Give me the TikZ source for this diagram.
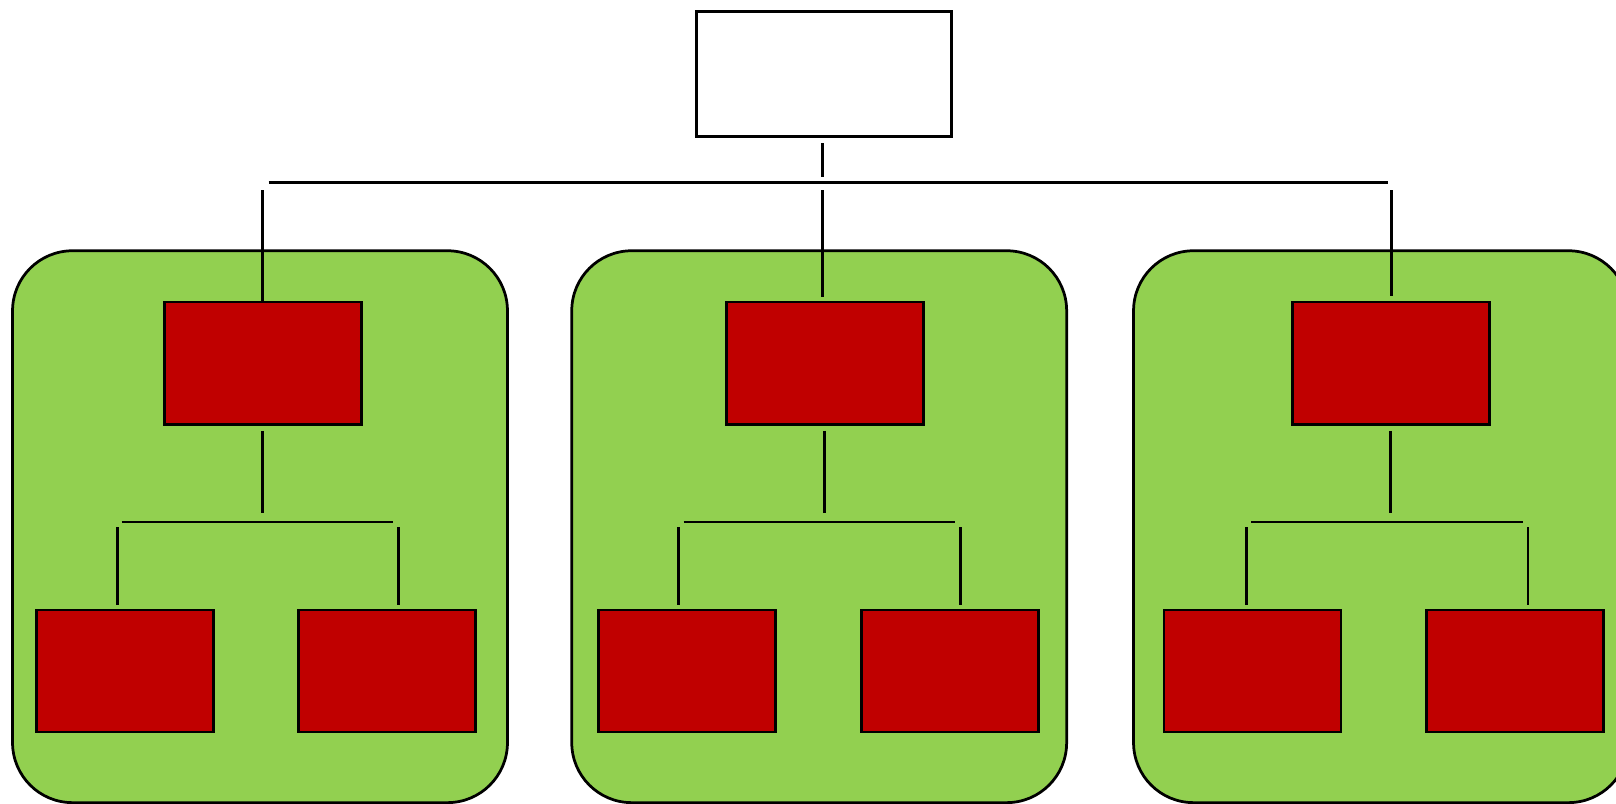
\documentclass[tikz,border=0pt]{standalone}
\usepackage{tikz}
\usetikzlibrary{positioning}
\definecolor{leafgreen}{HTML}{92D050}
\definecolor{boxred}{HTML}{C00000}

\begin{document}
\begin{tikzpicture}[x=0.02cm,y=-0.02cm,line width=0.055cm,inner sep=0pt,
    group/.style={draw,fill=leafgreen,rounded corners=1.2cm,minimum width=9.9cm,minimum height=11.04cm},
    head/.style={draw,fill=white,minimum width=5.09cm,minimum height=2.5cm},
    unit/.style={draw,fill=boxred,minimum width=3.94cm,minimum height=2.45cm},
    leaf/.style={draw,fill=boxred,minimum width=3.54cm,minimum height=2.44cm},
    link/.style={shorten <=0.1cm}]
    \clip (0,0) rectangle (1616,804);
    % groups
    \node[group] (g_1) at (260,526.7)  {};
    \node[group] (g_2) at (819.2,526.7) {};
    \node[group] (g_3) at (1381,526.7) {};
    % boxes
    \node[head] (top) at (824,74.2) {};
    \node[unit] (u_1) at (263,363.2)    {};
    \node[unit] (u_2) at (825.2,363.2)  {};
    \node[unit] (u_3) at (1390.9,363.2) {};
    \node[leaf] (l_1a) at (124.8,671)  {};
    \node[leaf] (l_1b) at (387,671)    {};
    \node[leaf] (l_2a) at (687,671)    {};
    \node[leaf] (l_2b) at (949.7,671)  {};
    \node[leaf] (l_3a) at (1252.5,671) {};
    \node[leaf] (l_3b) at (1515.2,671) {};
    % bar ends and drops
    \coordinate (barL) at (268.7,182.5);
    \coordinate (barR) at (1387.7,182.5);
    \coordinate (j_0) at (822.3,182.5);
    \coordinate (d_1) at (262.3,182.5);
    \coordinate (d_3) at (1391.7,182.5);
    \coordinate (s_1) at (262.3,522);
    \coordinate (s_2) at (824.3,522);
    \coordinate (s_3) at (1390.3,522);
    \coordinate (sL_1) at (121.7,522);  \coordinate (sR_1) at (393.3,522);
    \coordinate (sL_2) at (683.7,522);  \coordinate (sR_2) at (955.3,522);
    \coordinate (sL_3) at (1251,522);   \coordinate (sR_3) at (1522.7,522);
    \coordinate (t_1a) at (117.3,522);  \coordinate (t_1b) at (398.3,522);
    \coordinate (t_2a) at (678.7,522);  \coordinate (t_2b) at (960.7,522);
    \coordinate (t_3a) at (1246.7,522); \coordinate (t_3b) at (1528,522);
    % top edges
    \draw[link,shorten >=0.1cm] (j_0 |- top.south) -- (j_0);
    \draw (barL) -- (barR);
    \draw[link,shorten <=0.16cm] (d_1) -- (d_1 |- u_1.north);
    \draw[link,shorten <=0.16cm,shorten >=0.08cm] (j_0) -- (j_0 |- u_2.north);
    \draw[link,shorten <=0.16cm,shorten >=0.1cm] (d_3) -- (d_3 |- u_3.north);
    % group edges
    \draw[link,shorten >=0.19cm] (s_1 |- u_1.south) -- (s_1);
    \draw[link,shorten >=0.19cm] (s_2 |- u_2.south) -- (s_2);
    \draw[link,shorten >=0.19cm] (s_3 |- u_3.south) -- (s_3);
    \draw (sL_1) -- (sR_1);
    \draw (sL_2) -- (sR_2);
    \draw (sL_3) -- (sR_3);
    % leaf edges
    \draw[link,shorten >=0.08cm] (t_1a) -- (t_1a |- l_1a.north);
    \draw[link,shorten >=0.08cm] (t_1b) -- (t_1b |- l_1b.north);
    \draw[link,shorten >=0.08cm] (t_2a) -- (t_2a |- l_2a.north);
    \draw[link,shorten >=0.08cm] (t_2b) -- (t_2b |- l_2b.north);
    \draw[link,shorten >=0.08cm] (t_3a) -- (t_3a |- l_3a.north);
    \draw[link,shorten >=0.08cm] (t_3b) -- (t_3b |- l_3b.north);
\end{tikzpicture}
\end{document}
